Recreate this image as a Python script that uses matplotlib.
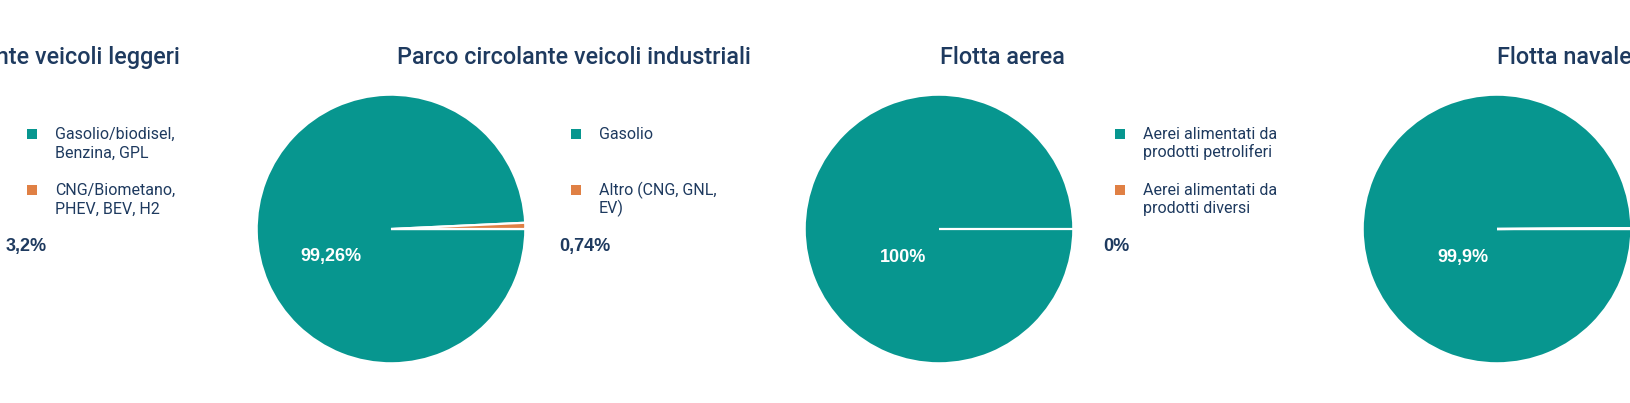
import matplotlib
matplotlib.use("Agg")
import matplotlib.pyplot as plt
from matplotlib.patches import Rectangle

W, H = 1630, 403

# ---- data ----
titles = ["Parco circolante veicoli leggeri",
          "Parco circolante veicoli industriali",
          "Flotta aerea",
          "Flotta navale"]
main_values = [96.8, 99.26, 100.0, 99.9]
other_values = [3.2, 0.74, 0.0, 0.1]
main_labels_txt = ["96,8%", "99,26%", "100%", "99,9%"]
other_labels_txt = ["3,2%", "0,74%", "0%", "0,1%"]
legend_main = [["Gasolio/biodisel,", "Benzina, GPL"],
               ["Gasolio"],
               ["Aerei alimentati da", "prodotti petroliferi"],
               []]
legend_other = [["CNG/Biometano,", "PHEV, BEV, H2"],
                ["Altro (CNG, GNL,", "EV)"],
                ["Aerei alimentati da", "prodotti diversi"],
                []]

TEAL = "#07968f"
ORANGE = "#e08044"
NAVY = "#1e3a5f"

# ---- layout (pixels) ----
pie_cx = [-157, 391, 939, 1497]
pie_cy = 229
pie_r = 135
title_x = [180, 574, 1002, 1497]
title_ha = ["right", "center", "center", "left"]
title_base = 64
inner_xy = [(-217, 261), (331, 261), (903, 262), (1463, 262)]
outer_x = [6, 559, 1103, 1661]
outer_base = 251
marker_cx = [32, 576, 1120, 1664]
legend_base = [139, 195]
line_gap = 18.5

fig = plt.figure(figsize=(W / 100, H / 100), dpi=100)
fig.patch.set_facecolor("white")

for i in range(4):
    cx = pie_cx[i]
    ax = fig.add_axes([(cx - pie_r) / W, (H - pie_cy - pie_r) / H,
                       2 * pie_r / W, 2 * pie_r / H])
    ax.pie([main_values[i], other_values[i]], colors=[TEAL, ORANGE],
           startangle=0, counterclock=False, radius=1,
           wedgeprops=dict(edgecolor="white", linewidth=1.6))
    ax.set_xlim(-1.005, 1.005)
    ax.set_ylim(-1.005, 1.005)
    ax.axis("off")

ov = fig.add_axes([0, 0, 1, 1], zorder=10)
ov.patch.set_alpha(0)
ov.set_xlim(0, W)
ov.set_ylim(H, 0)
ov.axis("off")

for i in range(4):
    ov.text(title_x[i], title_base, titles[i], ha=title_ha[i], va="baseline",
            fontsize=16.8, family="Roboto", fontweight="medium", color=NAVY)

    ix, iy = inner_xy[i]
    if ix > 0:
        ov.text(ix, iy, main_labels_txt[i], ha="center", va="baseline",
                fontsize=13, family="Liberation Sans", fontweight="bold", color="white")
    if outer_x[i] < W:
        ov.text(outer_x[i], outer_base, other_labels_txt[i], ha="left", va="baseline",
                fontsize=13, family="Liberation Sans", fontweight="bold", color=NAVY)

    for k, (lines, col) in enumerate([(legend_main[i], TEAL), (legend_other[i], ORANGE)]):
        if not lines:
            continue
        mx = marker_cx[i]
        ov.add_patch(Rectangle((mx - 5, legend_base[k] - 10), 10, 10,
                               facecolor=col, edgecolor="none"))
        for j, ln in enumerate(lines):
            ov.text(mx + 23, legend_base[k] + j * line_gap, ln, ha="left", va="baseline",
                    fontsize=11.5, family="Roboto", color=NAVY)

fig.savefig("out.png", dpi=100, facecolor="white")
